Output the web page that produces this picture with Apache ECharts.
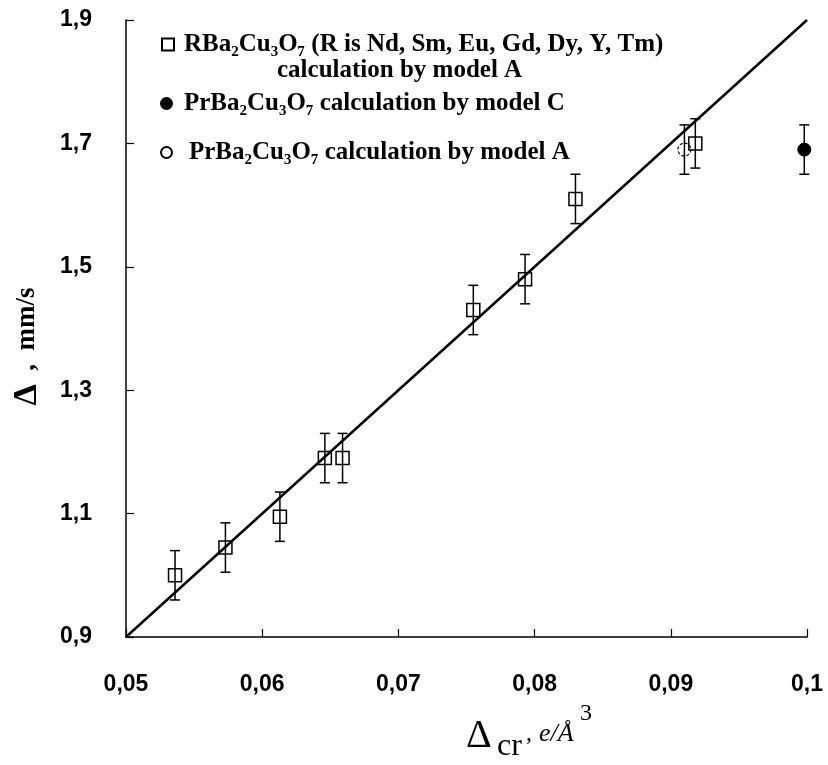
<!DOCTYPE html>
<html>
<head>
<meta charset="utf-8">
<title>Delta vs Delta_cr</title>
<script src="https://cdn.jsdelivr.net/npm/echarts@6/dist/echarts.min.js"></script>
</head>
<body style="margin:0; background:#fff;">
<div id="main" style="width:828px; height:765px;"></div>
<script type="text/javascript">

// RBa2Cu3O7, model A (open squares)
var xR = [0.0536, 0.0573, 0.0613, 0.0646, 0.0659, 0.0755, 0.0793, 0.0830, 0.0918];
var yR = [1.00, 1.045, 1.095, 1.19, 1.19, 1.43, 1.48, 1.61, 1.70];
var errR = [0.04, 0.04, 0.04, 0.04, 0.04, 0.04, 0.04, 0.04, 0.04];
// PrBa2Cu3O7, model C (filled circle)
var xPrC = [0.0998];
var yPrC = [1.69];
var errPrC = [0.04];
// PrBa2Cu3O7, model A (open circle)
var xPrA = [0.0910];
var yPrA = [1.69];
var errPrA = [0.04];
// fitted line
var fitX = [0.05, 0.1];
var fitY = [0.9, 1.9];

var nameR = 'RBa₂Cu₃O₇ (R is Nd, Sm, Eu, Gd, Dy, Y, Tm)';
var nameC = 'PrBa₂Cu₃O₇ calculation by model C';
var nameA = 'PrBa₂Cu₃O₇ calculation by model A';

function pairs(xs, ys) {
  return xs.map(function (x, i) { return [x, ys[i]]; });
}
var errData = [];
[[xR, yR, errR], [xPrA, yPrA, errPrA], [xPrC, yPrC, errPrC]].forEach(function (g) {
  g[0].forEach(function (x, i) {
    errData.push([x, g[1][i] - g[2][i], g[1][i] + g[2][i]]);
  });
});

var chart = echarts.init(document.getElementById('main'));

var serif = '"Liberation Serif", "Times New Roman", serif';
var sans = '"Liberation Sans", Arial, sans-serif';
function legendText(pad) {
  return { fontFamily: serif, fontWeight: 'bold', fontSize: 25, color: '#000', padding: [0, 0, 0, pad] };
}

function comma(v, d) {
  return String(parseFloat(v.toFixed(d))).replace('.', ',');
}

var option = {
  backgroundColor: '#fff',
  animation: false,
  grid: { left: 126, right: 21, top: 20, bottom: 128 },
  legend: [
    { data: [nameR], left: 156, top: 27, itemWidth: 12, itemHeight: 12, textStyle: legendText(5), selectedMode: false },
    { data: [nameC], left: 155, top: 86, itemWidth: 11, itemHeight: 11, textStyle: legendText(7), selectedMode: false },
    { data: [nameA], left: 155, top: 135, itemWidth: 11, itemHeight: 11, textStyle: legendText(12), selectedMode: false }
  ],
  graphic: [
    { type: 'text', left: 277, top: 58, style: { text: 'calculation by model A', font: 'bold 25px ' + serif, fill: '#000' } },
    { type: 'text', left: 466, top: 716, style: { text: 'Δ', font: '40px ' + serif, fill: '#000' } },
    { type: 'text', left: 497, top: 731, style: { text: 'cr', font: '32px ' + serif, fill: '#000' } },
    { type: 'text', left: 526, top: 722, style: { text: ',', font: '24px ' + serif, fill: '#000' } },
    { type: 'text', left: 539, top: 721, style: { text: 'e/Å', font: 'italic 26px ' + serif, fill: '#000' } },
    { type: 'text', left: 580, top: 702, style: { text: '3', font: '24px ' + serif, fill: '#000' } }
  ],
  xAxis: {
    type: 'value',
    min: 0.05,
    max: 0.1,
    interval: 0.01,
    splitLine: { show: false },
    axisLine: { lineStyle: { color: '#000', width: 1.5 } },
    axisTick: { inside: true, length: 8, lineStyle: { color: '#000', width: 1.2 } },
    axisLabel: {
      margin: 36,
      color: '#000',
      fontFamily: sans,
      fontWeight: 'bold',
      fontSize: 23,
      formatter: function (v) { return comma(v, 2); }
    }
  },
  yAxis: {
    type: 'value',
    min: 0.9,
    max: 1.9,
    interval: 0.2,
    name: '{d|Δ}  ,  mm/s',
    nameLocation: 'middle',
    nameGap: 82,
    nameTextStyle: {
      fontFamily: serif, fontWeight: 'bold', fontSize: 27, color: '#000', padding: [0, 36, 0, 0],
      rich: { d: { fontFamily: serif, fontWeight: 'bold', fontSize: 34, color: '#000' } }
    },
    splitLine: { show: false },
    axisLine: { lineStyle: { color: '#000', width: 1.5 } },
    axisTick: { inside: true, length: 8, lineStyle: { color: '#000', width: 1.2 } },
    axisLabel: {
      margin: 34,
      color: '#000',
      fontFamily: sans,
      fontWeight: 'bold',
      fontSize: 23,
      formatter: function (v) { return comma(v, 1); }
    }
  },
  series: [
    {
      type: 'line',
      name: 'fit',
      data: pairs(fitX, fitY),
      showSymbol: false,
      lineStyle: { color: '#000', width: 2.5 },
      z: 2
    },
    {
      type: 'custom',
      name: 'err',
      data: errData,
      encode: { x: 0, y: [1, 2] },
      renderItem: function (params, api) {
        var lo = api.coord([api.value(0), api.value(1)]);
        var hi = api.coord([api.value(0), api.value(2)]);
        var w = 5;
        var st = { stroke: '#000', lineWidth: 1.5 };
        return {
          type: 'group',
          children: [
            { type: 'line', shape: { x1: lo[0], y1: lo[1], x2: hi[0], y2: hi[1] }, style: st },
            { type: 'line', shape: { x1: lo[0] - w, y1: lo[1], x2: lo[0] + w, y2: lo[1] }, style: st },
            { type: 'line', shape: { x1: hi[0] - w, y1: hi[1], x2: hi[0] + w, y2: hi[1] }, style: st }
          ]
        };
      },
      z: 3
    },
    {
      type: 'scatter',
      name: nameR,
      data: pairs(xR, yR),
      symbol: 'rect',
      symbolSize: 13,
      itemStyle: { color: 'rgba(0,0,0,0)', borderColor: '#000', borderWidth: 1.5, opacity: 1 },
      z: 4
    },
    {
      type: 'scatter',
      name: nameC,
      data: pairs(xPrC, yPrC),
      symbol: 'circle',
      symbolSize: 13,
      itemStyle: { color: '#000', borderColor: '#000', borderWidth: 1, opacity: 1 },
      z: 4
    },
    {
      type: 'scatter',
      name: nameA,
      data: pairs(xPrA, yPrA),
      symbol: 'circle',
      symbolSize: 13,
      itemStyle: { color: 'rgba(0,0,0,0)', borderColor: '#000', borderWidth: 1.2, borderType: [3, 2], opacity: 1 },
      z: 4
    }
  ]
};

chart.setOption(option);
</script>
</body>
</html>
